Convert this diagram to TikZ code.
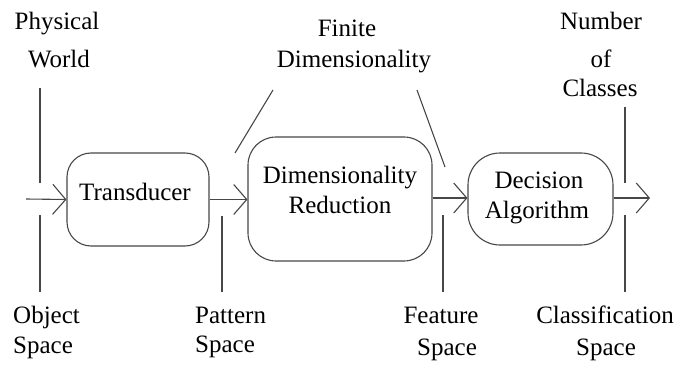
\documentclass[tikz,border=0pt]{standalone}
\usepackage{fontspec}
\setmainfont{Liberation Serif}
\newfontfamily\labelfont{Liberation Serif}
\usetikzlibrary{arrows.meta}
\begin{document}
\begin{tikzpicture}[x=1pt,y=-1pt,
  ln/.style={draw=black!72,line width=1.1pt},
  procbox/.style={draw=black!72,line width=1.1pt,inner sep=0pt},
  txt/.style={font=\labelfont\fontsize{25}{30}\selectfont,inner sep=0pt,anchor=base,text=black},
  txtw/.style={txt,anchor=base west},
  arr/.style={ln,-{Straight Barb[length=13pt,width=30pt]}}]
\useasboundingbox (0,0) rectangle (678,369);
% boxes
\node[procbox,rounded corners=24pt,minimum width=142pt,minimum height=93pt] (tr) at (138,199.5) {};
\node[procbox,rounded corners=28pt,minimum width=184pt,minimum height=124pt] (dr) at (340,199) {};
\node[procbox,rounded corners=32pt,minimum width=145pt,minimum height=92pt] (da) at (540.5,199) {};
% box texts
\node[txt] (trt) at (135,200) {Transducer};
\node[txt] (drt1) at (340,183) {Dimensionality};
\node[txt] (drt2) at (340,213) {Reduction};
\node[txt] (dat1) at (539,188) {Decision};
\node[txt] (dat2) at (537,218) {Algorithm};
% labels
\node[txt] (pw1) at (57,30) {Physical};
\node[txt] (pw2) at (59,68) {World};
\node[txt] (fd1) at (347,37) {Finite};
\node[txt] (fd2) at (354,67) {Dimensionality};
\node[txt] (nc1) at (601,30) {Number};
\node[txt] (nc2) at (601,67) {of};
\node[txt] (nc3) at (600,97) {Classes};
\node[txtw] (os1) at (13,323) {Object};
\node[txtw] (os2) at (13,353) {Space};
\node[txtw] (ps1) at (195,323) {Pattern};
\node[txtw] (ps2) at (195,352) {Space};
\node[txt] (fs1) at (441,323) {Feature};
\node[txt] (fs2) at (447,355) {Space};
\node[txt] (cs1) at (605,323) {Classification};
\node[txt] (cs2) at (606,355) {Space};
% flow
\coordinate (in) at (26,199);
\coordinate (out) at (650,198);
\draw[arr] (in) -- (tr.west);
\draw[arr] (tr.east) -- (tr.east -| dr.west);
\draw[arr] (dr.east |- out) -- (da.west |- out);
\draw[arr] (da.east |- out) -- (out);
% annotation lines
\coordinate (pwa) at (40,88);  \coordinate (pwb) at (40,183);
\coordinate (osa) at (40,215); \coordinate (osb) at (40,292);
\coordinate (psa) at (222,216); \coordinate (psb) at (222,292);
\coordinate (fda) at (273,90); \coordinate (fdb) at (235,153);
\coordinate (fdc) at (417,90); \coordinate (fdd) at (445,167);
\coordinate (fsa) at (443,215); \coordinate (fsb) at (443,292);
\coordinate (nca) at (625,107); \coordinate (ncb) at (625,183);
\coordinate (csa) at (625,215); \coordinate (csb) at (625,292);
\draw[ln] (pwa) -- (pwb);
\draw[ln] (osa) -- (osb);
\draw[ln] (psa) -- (psb);
\draw[ln] (fda) -- (fdb);
\draw[ln] (fdc) -- (fdd);
\draw[ln] (fsa) -- (fsb);
\draw[ln] (nca) -- (ncb);
\draw[ln] (csa) -- (csb);
\end{tikzpicture}
\end{document}
